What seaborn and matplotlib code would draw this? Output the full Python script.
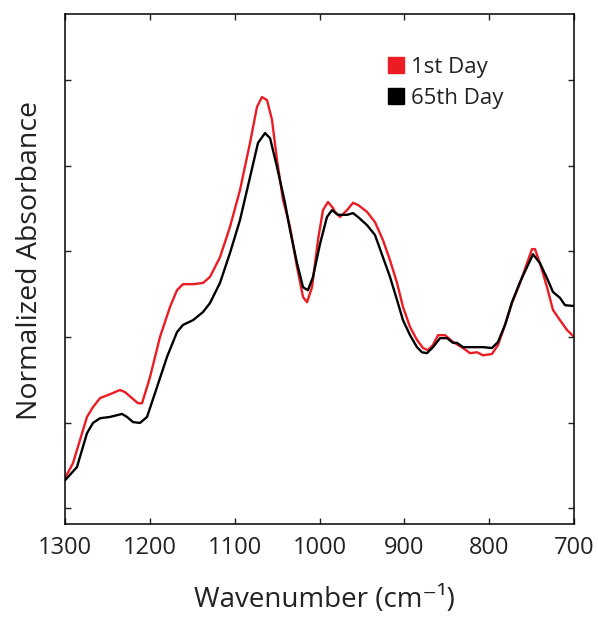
import numpy as np
import pandas as pd
import matplotlib
matplotlib.use("Agg")
import matplotlib.pyplot as plt
from matplotlib.lines import Line2D
import seaborn as sns

# FTIR spectra (wavenumber in cm^-1, normalized absorbance)
wn_day1 = [1300, 1290.6, 1274.1, 1267.0, 1258.7, 1247.0, 1235.2, 1229.3, 1221.0, 1214.0,
           1209.2, 1199.8, 1188.0, 1176.2, 1168.0, 1160.9, 1149.1, 1137.3, 1129.1, 1117.3,
           1105.5, 1093.7, 1081.9, 1073.7, 1067.8, 1061.9, 1056.0, 1050.1, 1043.0, 1034.8,
           1026.5, 1019.4, 1014.7, 1008.8, 1001.8, 995.9, 990.0, 984.1, 981.7, 975.8,
           967.6, 960.5, 954.6, 944.0, 934.6, 925.2, 916.9, 908.6, 901.6, 893.3,
           885.1, 878.0, 872.1, 866.2, 860.3, 852.0, 842.6, 830.8, 822.6, 814.3,
           807.3, 796.7, 789.6, 781.3, 773.1, 763.6, 755.4, 749.5, 746.0, 740.1,
           731.8, 724.8, 716.5, 708.2, 700.0]
abs_day1 = [0.070, 0.105, 0.213, 0.236, 0.257, 0.266, 0.276, 0.271, 0.257, 0.245,
            0.245, 0.306, 0.400, 0.470, 0.509, 0.523, 0.523, 0.526, 0.540, 0.586,
            0.657, 0.743, 0.853, 0.937, 0.960, 0.953, 0.907, 0.813, 0.720, 0.657,
            0.563, 0.493, 0.481, 0.516, 0.626, 0.696, 0.715, 0.701, 0.692, 0.680,
            0.696, 0.713, 0.708, 0.692, 0.668, 0.626, 0.579, 0.526, 0.470, 0.423,
            0.393, 0.374, 0.369, 0.381, 0.404, 0.404, 0.388, 0.374, 0.362, 0.364,
            0.357, 0.360, 0.381, 0.428, 0.479, 0.526, 0.572, 0.605, 0.605, 0.572,
            0.516, 0.463, 0.439, 0.416, 0.400]

wn_day65 = [1300, 1285.9, 1274.1, 1267.0, 1258.7, 1247.0, 1232.8, 1226.9, 1219.8, 1211.6,
            1203.3, 1191.5, 1179.8, 1168.0, 1160.9, 1149.1, 1137.3, 1129.1, 1117.3, 1105.5,
            1093.7, 1081.9, 1072.5, 1064.2, 1058.3, 1050.1, 1040.7, 1034.8, 1026.5, 1019.4,
            1013.6, 1007.7, 999.4, 991.2, 985.3, 978.2, 967.6, 960.5, 954.6, 944.0,
            934.6, 925.2, 916.9, 908.6, 901.6, 893.3, 885.1, 879.2, 873.3, 866.2,
            857.9, 849.7, 842.6, 837.9, 830.8, 819.0, 807.3, 796.7, 789.6, 781.3,
            773.1, 763.6, 755.4, 748.3, 740.1, 731.8, 724.8, 716.5, 710.6, 700.0]
abs_day65 = [0.065, 0.096, 0.175, 0.199, 0.210, 0.213, 0.220, 0.213, 0.201, 0.199,
             0.213, 0.283, 0.353, 0.411, 0.428, 0.439, 0.458, 0.479, 0.526, 0.596,
             0.673, 0.773, 0.853, 0.876, 0.864, 0.797, 0.713, 0.650, 0.572, 0.516,
             0.509, 0.540, 0.617, 0.680, 0.696, 0.685, 0.685, 0.689, 0.680, 0.661,
             0.638, 0.586, 0.540, 0.486, 0.439, 0.404, 0.376, 0.364, 0.362, 0.376,
             0.397, 0.397, 0.386, 0.386, 0.376, 0.376, 0.376, 0.374, 0.388, 0.428,
             0.481, 0.528, 0.563, 0.593, 0.572, 0.537, 0.505, 0.491, 0.474, 0.472]

series_names = ["1st Day", "65th Day"]
series_colors = ["#ec1c24", "#000000"]
x_ticks = [1300, 1200, 1100, 1000, 900, 800, 700]
y_ticks = [0.0, 0.2, 0.4, 0.6, 0.8, 1.0]

df = pd.concat([
    pd.DataFrame({"wavenumber": wn_day1, "absorbance": abs_day1, "sample": series_names[0]}),
    pd.DataFrame({"wavenumber": wn_day65, "absorbance": abs_day65, "sample": series_names[1]}),
], ignore_index=True)

sns.set_style("ticks")
plt.rcParams["font.family"] = ["Open Sans", "DejaVu Sans"]

fig = plt.figure(figsize=(5.98, 6.17), dpi=100)
ax = fig.add_axes([65 / 598, 1 - 524 / 617, 509 / 598, 510 / 617])

sns.lineplot(data=df, x="wavenumber", y="absorbance", hue="sample",
             palette=dict(zip(series_names, series_colors)), sort=False,
             estimator=None, linewidth=1.7, legend=False, ax=ax)

ax.set_xlim(1300, 700)
ax.set_ylim(-0.037, 1.154)
ax.set_xticks(x_ticks)
ax.set_xticklabels([str(t) for t in x_ticks])
ax.set_yticks(y_ticks)
ax.set_yticklabels([])
ax.tick_params(direction="in", length=4, width=1, top=True, right=True,
               labelsize=17, pad=9, colors="#222222")
for s in ax.spines.values():
    s.set_color("#000000")
    s.set_linewidth(1.1)

ax.set_xlabel("Wavenumber (cm\u207b\u00b9)", fontsize=20, color="#222222", va="center")
ax.xaxis.set_label_coords(0.509, -0.149)
ax.set_ylabel("Normalized Absorbance", fontsize=20.5, color="#222222", va="center")
ax.yaxis.set_label_coords(-0.069, 0.516)

handles = [Line2D([], [], marker="s", linestyle="none", markersize=11,
                  markerfacecolor=c, markeredgecolor=c) for c in series_colors]
ax.legend(handles, series_names, loc="upper left", bbox_to_anchor=(0.59, 0.955),
          frameon=False, fontsize=16, handletextpad=0.15, handlelength=1.0,
          labelspacing=0.45, labelcolor="#222222")

fig.savefig("out.png", dpi=100)
